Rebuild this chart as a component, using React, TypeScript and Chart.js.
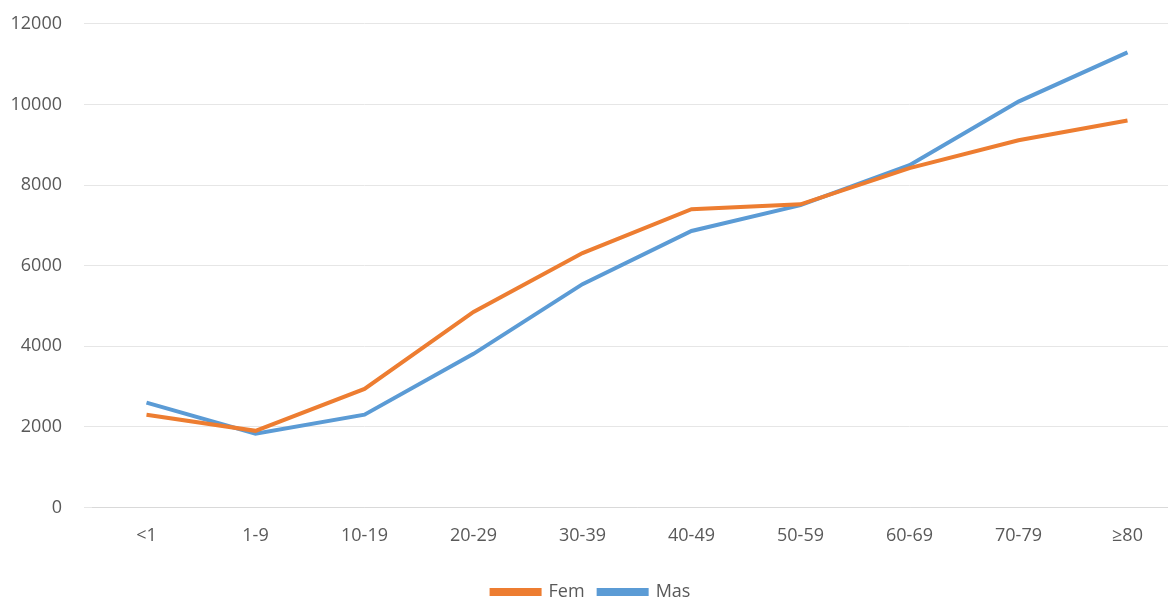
import React, { useRef, useEffect } from 'react';
import { Chart, registerables } from 'chart.js';

Chart.register(...registerables);

const categories = ['<1', '1-9', '10-19', '20-29', '30-39', '40-49', '50-59', '60-69', '70-79', '≥80'];
const femValues = [2300, 1900, 2940, 4850, 6310, 7400, 7520, 8420, 9110, 9600];
const masValues = [2600, 1830, 2300, 3810, 5540, 6860, 7500, 8490, 10070, 11290];

const App = () => {
  const canvasRef = useRef<any>(null);
  const chartRef = useRef<any>(null);

  useEffect(() => {
    document.body.style.margin = '0';
    if (canvasRef.current) {
      if (chartRef.current) chartRef.current.destroy();
      const font = { family: 'Open Sans', size: 18 };
      chartRef.current = new Chart(canvasRef.current.getContext('2d'), {
        type: 'line',
        data: {
          labels: categories,
          datasets: [
            { label: 'Fem', data: femValues, borderColor: '#ED7D31', backgroundColor: '#ED7D31', borderWidth: 4, pointRadius: 0, tension: 0 },
            { label: 'Mas', data: masValues, borderColor: '#5B9BD5', backgroundColor: '#5B9BD5', borderWidth: 4, pointRadius: 0, tension: 0 },
          ],
        },
        options: {
          animation: false,
          responsive: false,
          layout: { padding: { left: 0, right: 0, top: 12, bottom: -12 } },
          plugins: {
            tooltip: { enabled: false },
            legend: {
              position: 'bottom',
              labels: { boxWidth: 48, boxHeight: 4, color: '#595959', font, padding: 14 },
            },
          },
          scales: {
            x: {
              offset: true,
              grid: { display: false },
              border: { color: '#D9D9D9' },
              afterFit: (s: any) => { s.height += 12; },
              ticks: { color: '#595959', font, padding: 10 },
            },
            y: {
              min: 0, max: 12000,
              grid: { color: '#E6E6E6' },
              border: { display: false },
              afterFit: (s: any) => { s.width = 92; },
              ticks: { stepSize: 2000, color: '#595959', font, padding: 22, callback: (v: any) => String(v) },
            },
          },
        },
      });
    }
    return () => { if (chartRef.current) chartRef.current.destroy(); };
  }, []);

  return (
    <div style={{ width: 1168, height: 599, overflow: 'hidden' }}>
      <canvas ref={canvasRef} width={1182} height={608} style={{ display: 'block', marginTop: -9 }} />
    </div>
  );
};

export default App;
